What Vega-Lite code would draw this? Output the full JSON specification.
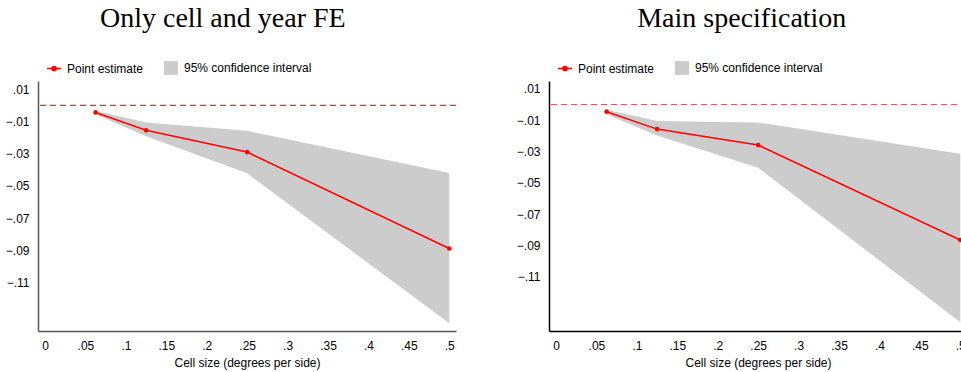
{
  "$schema": "https://vega.github.io/schema/vega-lite/v6.json",
  "background": "white",
  "padding": {"left": 5, "top": 5, "right": 5, "bottom": 5},
  "datasets": {
    "left": [
      {"x": 0.0625, "est": -0.0044, "lo": -0.0057, "hi": -0.0033},
      {"x": 0.125, "est": -0.0155, "lo": -0.0192, "hi": -0.0106},
      {"x": 0.25, "est": -0.029, "lo": -0.0422, "hi": -0.0158},
      {"x": 0.5, "est": -0.0888, "lo": -0.1352, "hi": -0.042}
    ],
    "right": [
      {"x": 0.0625, "est": -0.0046, "lo": -0.0062, "hi": -0.0033},
      {"x": 0.125, "est": -0.0157, "lo": -0.0198, "hi": -0.0106},
      {"x": 0.25, "est": -0.0259, "lo": -0.0404, "hi": -0.0115},
      {"x": 0.5, "est": -0.0865, "lo": -0.139, "hi": -0.0315}
    ],
    "zero": [{"ref": 0}]
  },
  "config": {
    "view": {"stroke": null},
    "axis": {
      "domainColor": "#555555",
      "domainWidth": 1.5,
      "ticks": false,
      "grid": false,
      "labelFont": "Liberation Sans",
      "labelFontSize": 12,
      "labelColor": "#000000",
      "titleFont": "Liberation Sans",
      "titleFontSize": 12,
      "titleFontWeight": "normal",
      "titleColor": "#000000"
    },
    "legend": {"padding": 0}
  },
  "resolve": {"scale": {"color": "independent"}, "legend": {"color": "independent"}},
  "spacing": 59,
  "hconcat": [
    {
      "width": 418,
      "height": 250,
      "title": {"text": "Only cell and year FE", "font": "Liberation Serif", "fontSize": 28, "fontWeight": "normal", "color": "#000000", "anchor": "middle", "frame": "bounds", "offset": 29, "dx": -8},
      "data": {"name": "left"},
      "layer": [
        {
          "mark": {"type": "area", "opacity": 1},
          "encoding": {
            "x": {"field": "x", "type": "quantitative", "scale": {"domain": [-0.0087, 0.5083], "nice": false, "zero": false},
              "axis": {"values": [0, 0.05, 0.1, 0.15, 0.2, 0.25, 0.3, 0.35, 0.4, 0.45, 0.5], "labelExpr": "replace(format(datum.value, '.2~f'), '0.', '.')", "labelPadding": 9, "title": "Cell size (degrees per side)", "titlePadding": 6}},
            "y": {"field": "lo", "type": "quantitative", "scale": {"domain": [-0.140, 0.0151], "nice": false, "zero": false},
              "axis": {"values": [0.01, -0.01, -0.03, -0.05, -0.07, -0.09, -0.11], "labelExpr": "replace(format(datum.value, '.2f'), '0.', '.')", "labelPadding": 9, "title": null, "minExtent": 33, "maxExtent": 33}},
            "y2": {"field": "hi"},
            "color": {"datum": "95% confidence interval", "type": "nominal",
              "scale": {"domain": ["Point estimate", "95% confidence interval"], "range": ["#ff0000", "#cccccc"]},
              "legend": {"orient": "none", "legendX": 10, "legendY": -19, "direction": "horizontal", "title": null,
                "labelFont": "Liberation Sans", "labelFontSize": 12, "labelColor": "#000000", "symbolSize": 196, "columnPadding": 20, "labelOffset": 7,
                "encode": {"symbols": {"update": {
                  "shape": {"signal": "datum.value === 'Point estimate' ? 'M-1,0L1,0M-0.3,0A0.3,0.3 0 1,0 0.3,0A0.3,0.3 0 1,0 -0.3,0' : 'square'"},
                  "fill": {"signal": "datum.value === 'Point estimate' ? '#ff0000' : '#cccccc'"},
                  "stroke": {"signal": "datum.value === 'Point estimate' ? '#ff0000' : '#cccccc'"},
                  "strokeWidth": {"signal": "datum.value === 'Point estimate' ? 1.5 : 0"},
                  "opacity": {"value": 1}, "fillOpacity": {"value": 1}, "strokeOpacity": {"value": 1}
                }}}}}
          }
        },
        {
          "data": {"name": "zero"},
          "mark": {"type": "rule", "strokeDash": [6, 4], "color": "#e0303c", "strokeWidth": 1.2},
          "encoding": {"y": {"field": "ref", "type": "quantitative"}}
        },
        {
          "mark": {"type": "line", "strokeWidth": 1.5, "point": {"filled": true, "size": 22, "opacity": 1}},
          "encoding": {
            "x": {"field": "x", "type": "quantitative"},
            "y": {"field": "est", "type": "quantitative"},
            "color": {"datum": "Point estimate", "type": "nominal",
              "legend": {"orient": "none", "legendX": 10, "legendY": -19, "direction": "horizontal", "title": null,
                "labelFont": "Liberation Sans", "labelFontSize": 12, "labelColor": "#000000", "symbolSize": 196, "columnPadding": 20, "labelOffset": 7,
                "encode": {"symbols": {"update": {
                  "shape": {"signal": "datum.value === 'Point estimate' ? 'M-1,0L1,0M-0.3,0A0.3,0.3 0 1,0 0.3,0A0.3,0.3 0 1,0 -0.3,0' : 'square'"},
                  "fill": {"signal": "datum.value === 'Point estimate' ? '#ff0000' : '#cccccc'"},
                  "stroke": {"signal": "datum.value === 'Point estimate' ? '#ff0000' : '#cccccc'"},
                  "strokeWidth": {"signal": "datum.value === 'Point estimate' ? 1.5 : 0"},
                  "opacity": {"value": 1}, "fillOpacity": {"value": 1}, "strokeOpacity": {"value": 1}
                }}}}}
          }
        }
      ]
    },
    {
      "width": 418,
      "height": 250,
      "title": {"text": "Main specification", "font": "Liberation Serif", "fontSize": 28, "fontWeight": "normal", "color": "#000000", "anchor": "middle", "frame": "bounds", "offset": 29},
      "data": {"name": "right"},
      "layer": [
        {
          "mark": {"type": "area", "opacity": 1},
          "encoding": {
            "x": {"field": "x", "type": "quantitative", "scale": {"domain": [-0.0087, 0.5083], "nice": false, "zero": false},
              "axis": {"values": [0, 0.05, 0.1, 0.15, 0.2, 0.25, 0.3, 0.35, 0.4, 0.45, 0.5], "labelExpr": "replace(format(datum.value, '.2~f'), '0.', '.')", "labelPadding": 9, "title": "Cell size (degrees per side)", "titlePadding": 6, "domainColor": "#000000"}},
            "y": {"field": "lo", "type": "quantitative", "scale": {"domain": [-0.1446, 0.0150], "nice": false, "zero": false},
              "axis": {"values": [0.01, -0.01, -0.03, -0.05, -0.07, -0.09, -0.11], "labelExpr": "replace(format(datum.value, '.2f'), '0.', '.')", "labelPadding": 9, "title": null, "minExtent": 33, "maxExtent": 33, "domainColor": "#000000"}},
            "y2": {"field": "hi"},
            "color": {"datum": "95% confidence interval", "type": "nominal",
              "scale": {"domain": ["Point estimate", "95% confidence interval"], "range": ["#ff0000", "#cccccc"]},
              "legend": {"orient": "none", "legendX": 10, "legendY": -19, "direction": "horizontal", "title": null,
                "labelFont": "Liberation Sans", "labelFontSize": 12, "labelColor": "#000000", "symbolSize": 196, "columnPadding": 20, "labelOffset": 7,
                "encode": {"symbols": {"update": {
                  "shape": {"signal": "datum.value === 'Point estimate' ? 'M-1,0L1,0M-0.3,0A0.3,0.3 0 1,0 0.3,0A0.3,0.3 0 1,0 -0.3,0' : 'square'"},
                  "fill": {"signal": "datum.value === 'Point estimate' ? '#ff0000' : '#cccccc'"},
                  "stroke": {"signal": "datum.value === 'Point estimate' ? '#ff0000' : '#cccccc'"},
                  "strokeWidth": {"signal": "datum.value === 'Point estimate' ? 1.5 : 0"},
                  "opacity": {"value": 1}, "fillOpacity": {"value": 1}, "strokeOpacity": {"value": 1}
                }}}}}
          }
        },
        {
          "data": {"name": "zero"},
          "mark": {"type": "rule", "strokeDash": [6, 4], "color": "#e05560", "strokeWidth": 1.2},
          "encoding": {"y": {"field": "ref", "type": "quantitative"}}
        },
        {
          "mark": {"type": "line", "strokeWidth": 1.5, "point": {"filled": true, "size": 22, "opacity": 1}},
          "encoding": {
            "x": {"field": "x", "type": "quantitative"},
            "y": {"field": "est", "type": "quantitative"},
            "color": {"datum": "Point estimate", "type": "nominal",
              "legend": {"orient": "none", "legendX": 10, "legendY": -19, "direction": "horizontal", "title": null,
                "labelFont": "Liberation Sans", "labelFontSize": 12, "labelColor": "#000000", "symbolSize": 196, "columnPadding": 20, "labelOffset": 7,
                "encode": {"symbols": {"update": {
                  "shape": {"signal": "datum.value === 'Point estimate' ? 'M-1,0L1,0M-0.3,0A0.3,0.3 0 1,0 0.3,0A0.3,0.3 0 1,0 -0.3,0' : 'square'"},
                  "fill": {"signal": "datum.value === 'Point estimate' ? '#ff0000' : '#cccccc'"},
                  "stroke": {"signal": "datum.value === 'Point estimate' ? '#ff0000' : '#cccccc'"},
                  "strokeWidth": {"signal": "datum.value === 'Point estimate' ? 1.5 : 0"},
                  "opacity": {"value": 1}, "fillOpacity": {"value": 1}, "strokeOpacity": {"value": 1}
                }}}}}
          }
        }
      ]
    }
  ]
}
